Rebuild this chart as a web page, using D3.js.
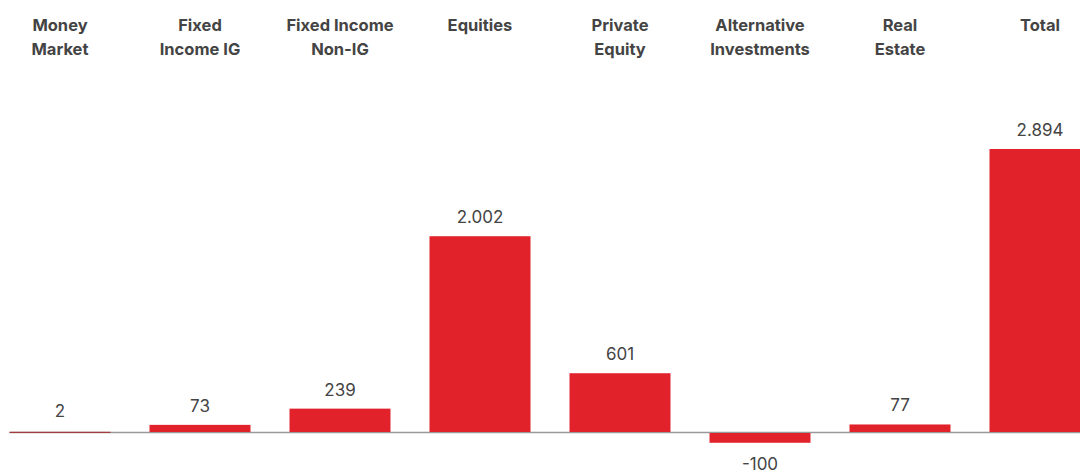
<!DOCTYPE html>
<html>
<head>
<meta charset="utf-8">
<script src="https://cdn.jsdelivr.net/npm/d3@7"></script>
<style>
  body { margin: 0; background: #fff; }
  text { font-family: Inter, "Noto Sans", sans-serif; }
</style>
</head>
<body>
<svg id="chart"></svg>
<script>
// data
const categories = [
  ["Money", "Market"],
  ["Fixed", "Income IG"],
  ["Fixed Income", "Non-IG"],
  ["Equities"],
  ["Private", "Equity"],
  ["Alternative", "Investments"],
  ["Real", "Estate"],
  ["Total"]
];
const values = [2, 73, 239, 2002, 601, -100, 77, 2894];

const w = 1080;
const h = 473;
const baseY = 432;

const fmt = d3.formatLocale({decimal: ",", thousands: ".", grouping: [3], currency: ["", "€"], minus: "-"}).format(",d");

const svg = d3.select("#chart").attr("width", w).attr("height", h);

const xScale = d3.scaleBand()
  .domain(d3.range(categories.length))
  .range([-10, -10 + 140 * categories.length])
  .paddingInner(39 / 140)
  .paddingOuter(39 / 280);

const yScale = d3.scaleLinear().domain([0, 2894]).range([baseY, 149]);

// baseline
svg.append("line")
  .attr("x1", xScale(0)).attr("x2", w)
  .attr("y1", baseY + 0.5).attr("y2", baseY + 0.5)
  .style("stroke", "#999").style("stroke-width", 1.5);

// bars
svg.selectAll("rect.bar")
  .data(values)
  .enter()
  .append("rect")
  .attr("class", "bar")
  .attr("x", (d, i) => xScale(i))
  .attr("width", xScale.bandwidth())
  .attr("y", d => d >= 0 ? Math.min(yScale(d), baseY) : yScale(0) + 1)
  .attr("height", d => d >= 0 ? Math.max(1, yScale(0) - yScale(d)) : yScale(d) - yScale(0))
  .style("fill", d => Math.abs(d) < 10 ? "#a8262b" : "#e2222b");

// value labels
svg.selectAll("text.val")
  .data(values)
  .enter()
  .append("text")
  .attr("class", "val")
  .attr("x", (d, i) => xScale(i) + xScale.bandwidth() / 2)
  .attr("y", d => d >= 0 ? Math.min(yScale(d), baseY - 2) - 13 : yScale(d) + 28)
  .attr("text-anchor", "middle")
  .style("font-size", "17px")
  .style("fill", "#444")
  .text(d => fmt(d));

// category labels on top
const cat = svg.selectAll("text.cat")
  .data(categories)
  .enter()
  .append("text")
  .attr("class", "cat")
  .attr("text-anchor", "middle")
  .attr("x", (d, i) => xScale(i) + xScale.bandwidth() / 2)
  .attr("y", 31)
  .style("font-size", "16.5px")
  .style("font-weight", "700")
  .style("fill", "#444");

cat.selectAll("tspan")
  .data(d => d)
  .enter()
  .append("tspan")
  .attr("x", function() { return this.parentNode.getAttribute("x"); })
  .attr("dy", (d, i) => i === 0 ? 0 : 24)
  .text(d => d);
</script>
</body>
</html>
